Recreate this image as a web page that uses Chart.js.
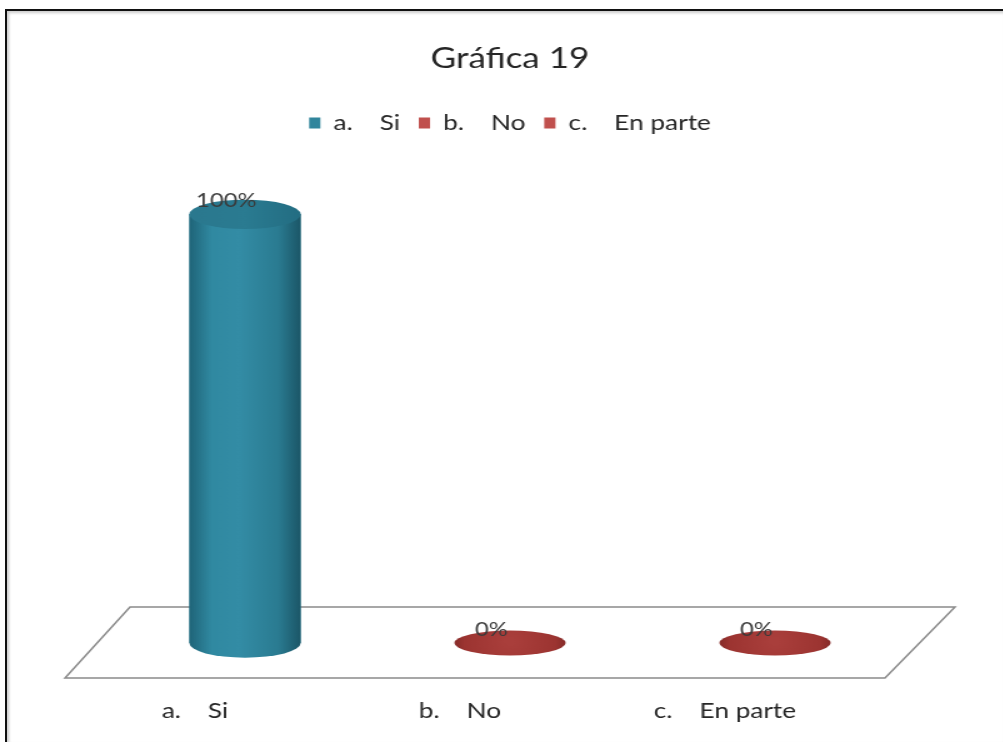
<!DOCTYPE html>
<html>
<head>
<meta charset="utf-8">
<script src="https://cdn.jsdelivr.net/npm/chart.js@4"></script>
<style>
  body { margin: 0; background: #fff; overflow: hidden; }
  #wrap { position: relative; width: 1003px; height: 742px; overflow: hidden; }
  #frame {
    position: absolute; left: 5px; top: 9px; right: 0; bottom: 0;
    border-top: 2px solid #111; border-left: 2px solid #111;
    box-shadow: inset 2px 2px 3px rgba(0,0,0,0.2);
    pointer-events: none;
  }
  /* la gráfica original está estirada en horizontal */
  canvas { position: absolute; left: 0; top: 0; transform: scaleX(1.25); transform-origin: 0 0; }
</style>
</head>
<body>
<div id="wrap">
  <canvas id="chart" width="802" height="742" style="width:802px;height:742px"></canvas>
  <div id="frame"></div>
</div>
<script>
// datos de la gráfica
const categories = ["a.    Si", "b.    No", "c.    En parte"];
const values = [100, 0, 0];
const valueLabels = ["100%", "0%", "0%"];
const colors = ["#31859C", "#C0504D", "#C0504D"];

const FONT = "Lato, 'Open Sans', sans-serif";

// ===== piso en perspectiva =====
const floorPlugin = {
  id: "floor3d",
  beforeDatasetsDraw(chart) {
    const a = chart.chartArea;
    const ctx = chart.ctx;
    ctx.save();
    ctx.beginPath();
    ctx.moveTo(a.left + 14, a.bottom - 36);
    ctx.lineTo(a.right + 38, a.bottom - 36);
    ctx.lineTo(a.right - 18, a.bottom + 35);
    ctx.lineTo(a.left - 38, a.bottom + 35);
    ctx.closePath();
    ctx.fillStyle = "#ffffff";
    ctx.fill();
    ctx.strokeStyle = "#8a8a8a";
    ctx.lineWidth = 1.5;
    ctx.stroke();
    ctx.restore();
  }
};

// ===== cilindros =====
function shade(ctx, x0, x1, stops) {
  const g = ctx.createLinearGradient(x0, 0, x1, 0);
  stops.forEach(s => g.addColorStop(s[0], s[1]));
  return g;
}

const cylinderPlugin = {
  id: "cylinders",
  afterDatasetsDraw(chart) {
    const ctx = chart.ctx;
    const meta = chart.getDatasetMeta(0);
    meta.data.forEach((bar, i) => {
      const w = bar.width;
      const rx = w / 2;
      const cx = bar.x;
      const top = bar.y;
      const base = bar.base;
      const left = cx - rx, right = cx + rx;
      ctx.save();
      if (values[i] > 0) {
        const ry = w * 0.165;
        const body = shade(ctx, left, right, [
          [0, "#1f6478"], [0.2, "#3089a1"], [0.45, "#338ca5"],
          [0.8, "#2a7b91"], [1, "#1b5667"]
        ]);
        ctx.beginPath();
        ctx.moveTo(left, top);
        ctx.lineTo(left, base);
        ctx.ellipse(cx, base, rx, ry, 0, Math.PI, 0, true);
        ctx.lineTo(right, top);
        ctx.closePath();
        ctx.fillStyle = body;
        ctx.fill();
        ctx.beginPath();
        ctx.ellipse(cx, top, rx, ry, 0, 0, Math.PI * 2);
        ctx.fillStyle = shade(ctx, left, right, [
          [0, "#2a788e"], [0.5, "#2a7b91"], [1, "#236d82"]
        ]);
        ctx.fill();
      } else {
        const ry = w * 0.14;
        ctx.beginPath();
        ctx.ellipse(cx, base, rx, ry, 0, 0, Math.PI * 2);
        const g = ctx.createRadialGradient(cx, base - 2, 4, cx, base, rx);
        g.addColorStop(0, "#a93e3b");
        g.addColorStop(0.8, "#9c3431");
        g.addColorStop(1, "#862b29");
        ctx.fillStyle = g;
        ctx.fill();
      }
      // etiqueta de valor
      ctx.fillStyle = "#3a3a3a";
      ctx.font = "19px " + FONT;
      ctx.textAlign = "center";
      ctx.textBaseline = "middle";
      ctx.fillText(valueLabels[i], cx - 15, top - 13);
      ctx.restore();
    });
  }
};

const chart = new Chart(document.getElementById("chart"), {
  type: "bar",
  data: {
    labels: categories,
    datasets: [{
      data: values,
      backgroundColor: colors,
      borderWidth: 0,
      barPercentage: 0.42,
      categoryPercentage: 1
    }]
  },
  options: {
    responsive: false,
    animation: false,
    devicePixelRatio: 1,
    layout: { padding: { left: 90, right: 76, bottom: 0 } },
    plugins: {
      title: {
        display: true,
        text: "Gráfica 19",
        color: "#262626",
        font: { family: FONT, size: 28, weight: "normal" },
        padding: { top: 42, bottom: 22 }
      },
      legend: {
        position: "top",
        labels: {
          color: "#262626",
          font: { family: FONT, size: 21 },
          boxWidth: 9,
          boxHeight: 11,
          padding: 15,
          generateLabels: () => categories.map((c, i) => ({
            text: c, fillStyle: colors[i], strokeStyle: colors[i],
            lineWidth: 0, hidden: false, index: i, fontColor: "#262626"
          }))
        },
        onClick: null
      },
      tooltip: { enabled: false }
    },
    scales: {
      x: {
        grid: { display: false, drawTicks: false },
        border: { display: false },
        ticks: {
          color: "#262626",
          font: { family: FONT, size: 21 },
          padding: 56,
          labelOffset: -40
        },
        afterFit(scale) { scale.height = 99; }
      },
      y: {
        display: false,
        min: 0,
        max: 116.5
      }
    }
  },
  plugins: [floorPlugin, cylinderPlugin]
});
</script>
</body>
</html>
